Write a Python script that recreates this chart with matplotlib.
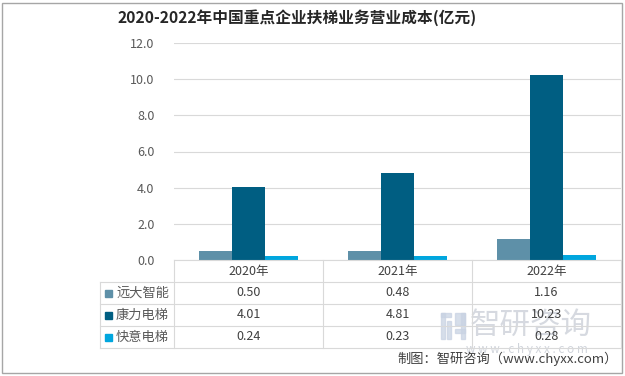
import matplotlib
matplotlib.use("Agg")
import matplotlib.pyplot as plt
from matplotlib.lines import Line2D
from matplotlib.patches import Rectangle
from matplotlib.transforms import blended_transform_factory
import numpy as np

plt.rcParams['font.family'] = ['Noto Sans CJK SC', 'DejaVu Sans']

title = "2020-2022年中国重点企业扶梯业务营业成本(亿元)"
years = ["2020年", "2021年", "2022年"]
series_names = ["远大智能", "康力电梯", "快意电梯"]
yuanda = [0.50, 0.48, 1.16]
kangli = [4.01, 4.81, 10.23]
kuaiyi = [0.24, 0.23, 0.28]
values = [yuanda, kangli, kuaiyi]
colors = ["#5E90A8", "#005E82", "#00A6DE"]
yticks = [0, 2, 4, 6, 8, 10, 12]
source = "制图：智研咨询（www.chyxx.com）"

W, H = 625, 376
fig = plt.figure(figsize=(W / 100, H / 100), dpi=100)

def fx(x):
    return x / W

def fy(y):
    return 1 - y / H

ax_left, ax_right, ax_top, ax_bottom = 174, 621, 43, 260
ax = fig.add_axes([fx(ax_left), fy(ax_bottom), fx(ax_right - ax_left), (ax_bottom - ax_top) / H])

x = np.arange(len(years))
bw = 0.221
for i, (vals, c) in enumerate(zip(values, colors)):
    ax.bar(x + (i - 1) * bw, vals, width=bw, color=c, zorder=3, linewidth=0)

ax.set_xlim(-0.5, len(years) - 0.5)
ax.set_ylim(0, 12)
ax.set_yticks(yticks)
ax.set_yticklabels([f"{v:.1f}" for v in yticks], fontsize=9, color="#595959")
ax.tick_params(axis='y', length=0, pad=14)
ax.set_xticks([])
ax.grid(axis='y', color="#D9D9D9", linewidth=0.8, zorder=0)
for s in ax.spines.values():
    s.set_visible(False)

grid_c = "#D9D9D9"
tbl_left = 100
row_edges = [260, 282, 304, 326, 348]

trans = blended_transform_factory(ax.transData, fig.transFigure)

def hline(x0, x1, y):
    fig.add_artist(Line2D([fx(x0), fx(x1)], [fy(y), fy(y)], color=grid_c, lw=0.8, transform=fig.transFigure))

def vline_data(xd, y0, y1):
    fig.add_artist(Line2D([xd, xd], [fy(y0), fy(y1)], color=grid_c, lw=0.8, transform=trans))

hline(ax_left, ax_right, row_edges[0])
for y in row_edges[1:]:
    hline(tbl_left, ax_right, y)
fig.add_artist(Line2D([fx(tbl_left)] * 2, [fy(row_edges[1]), fy(row_edges[-1])], color=grid_c, lw=0.8,
                      transform=fig.transFigure))
for b in np.arange(len(years) + 1) - 0.5:
    vline_data(b, row_edges[0], row_edges[-1])

for xi, yr in zip(x, years):
    fig.text(xi, fy((row_edges[0] + row_edges[1]) / 2), yr, transform=trans, ha='center', va='center',
             fontsize=9, color="#404040")
for r, (name, vals, c) in enumerate(zip(series_names, values, colors)):
    yc = (row_edges[r + 1] + row_edges[r + 2]) / 2
    fig.add_artist(Rectangle((fx(105), fy(yc + 3.5)), fx(7), 7 / H, color=c, transform=fig.transFigure))
    fig.text(fx(116), fy(yc), name, ha='left', va='center', fontsize=9.5, color="#595959")
    for xi, v in zip(x, vals):
        fig.text(xi, fy(yc), f"{v:.2f}", transform=trans, ha='center', va='center', fontsize=9,
                 color="#404040", zorder=5)

# title
fig.text(fx(297), fy(18), title, ha='center', va='center', fontsize=11.3, fontweight='bold', color="#262626")

# watermark logo (simple shapes) and text
logo_c = "#C9D3E3"
for (lx, ly, lw_, lh) in [(441, 313, 10, 4), (441, 313, 4, 26), (447, 321, 4, 18), (455, 313, 10, 12),
                          (455, 329, 10, 4), (461, 313, 4, 26)]:
    fig.add_artist(Rectangle((fx(lx), fy(ly + lh)), fx(lw_), lh / H, color=logo_c, alpha=0.75,
                             transform=fig.transFigure, zorder=0))
fig.text(fx(531), fy(325), "智研咨询", ha='center', va='center', fontsize=22, color="#C5CAD3", alpha=0.7,
         zorder=1)
fig.text(fx(527), fy(350), "w w w . c h y x x . c o m", ha='center', va='center', fontsize=8.5,
         color="#C5CAD3", alpha=0.8, zorder=1)

fig.text(fx(618), fy(359), source, ha='right', va='center', fontsize=9.5, color="#404040")

fig.add_artist(Rectangle((fx(2), fy(373)), fx(620), 370 / H, fill=False, edgecolor="#A6A6A6", lw=1,
                         transform=fig.transFigure))

fig.savefig("out.png", dpi=100)
